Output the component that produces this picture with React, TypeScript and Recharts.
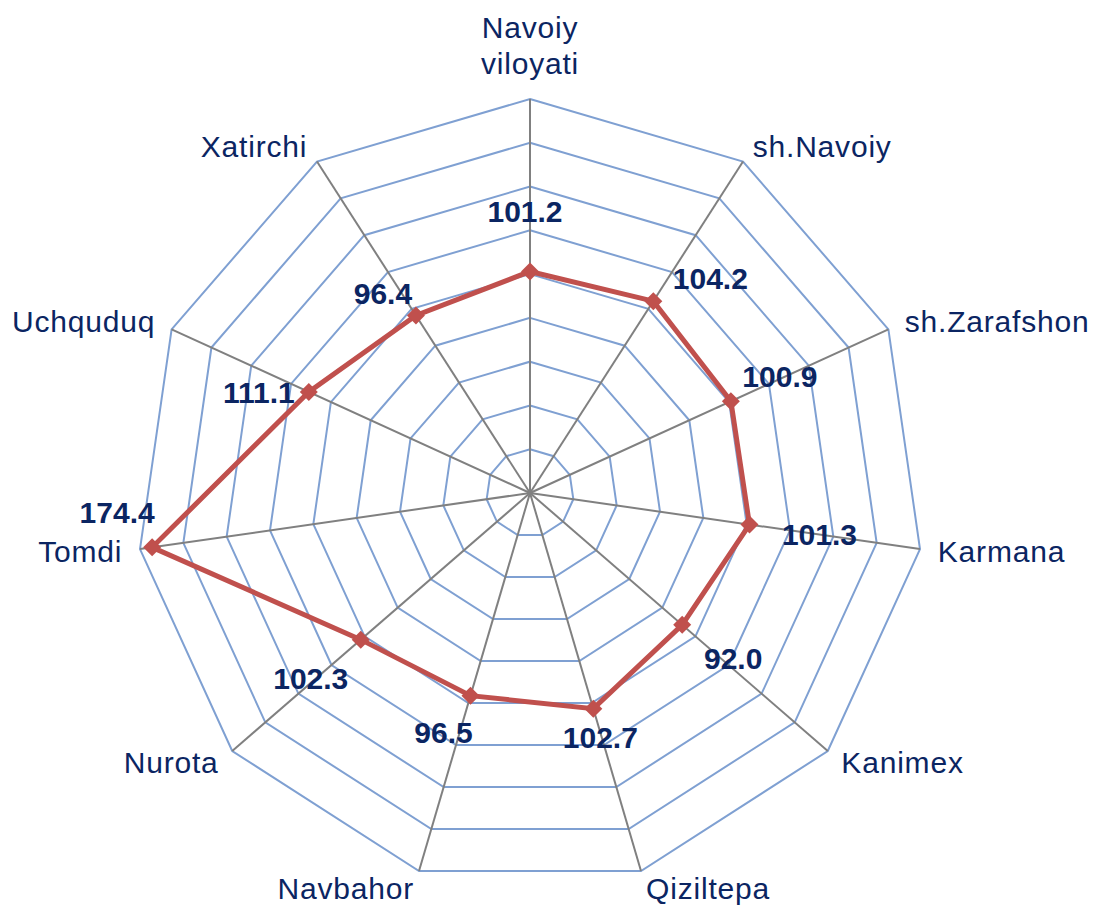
import { RadarChart, Radar, PolarGrid, PolarAngleAxis, PolarRadiusAxis } from "recharts";

const categories = [
  "Navoiy viloyati",
  "sh.Navoiy",
  "sh.Zarafshon",
  "Karmana",
  "Kanimex",
  "Qiziltepa",
  "Navbahor",
  "Nurota",
  "Tomdi",
  "Uchquduq",
  "Xatirchi",
];
const growth = [101.2, 104.2, 100.9, 101.3, 92.0, 102.7, 96.5, 102.3, 174.4, 111.1, 96.4];
const radiusDomain = [0, 180];

// where each value label sits relative to its marker (hand placed, as in the source)
const labelShift: [number, number][] = [
  [-5, -60], [57, -23], [49, -25], [70, 10], [51, 34], [7, 29],
  [-27, 37], [-50, 39], [-35, -35], [-50, 1], [-33, -22],
];

const NAVY = "#0B2562";
const FONT = "'Liberation Sans', Arial, sans-serif";

const data = categories.map((name, i) => ({ name, v: growth[i] }));

function CategoryTick(props: any) {
  const { x, y, textAnchor, payload, index } = props;
  const name: string = payload.value;
  const common = {
    fill: NAVY,
    fontSize: 30,
    fontFamily: FONT,
    letterSpacing: 0.8,
    dominantBaseline: "central" as const,
  };
  if (index === 0) {
    const [a, b] = name.split(" ");
    return (
      <g>
        <text x={x} y={y - 54} textAnchor="middle" {...common}>{a}</text>
        <text x={x} y={y - 18} textAnchor="middle" {...common}>{b}</text>
      </g>
    );
  }
  return (
    <text x={x} y={y} textAnchor={textAnchor} {...common}>
      {name}
    </text>
  );
}

const renderDot = (props: any) => {
  const { cx, cy, index } = props;
  const [dx, dy] = labelShift[index];
  const s = 9;
  return (
    <g key={`dot-${index}`}>
      <polygon
        points={`${cx},${cy - s} ${cx + s},${cy} ${cx},${cy + s} ${cx - s},${cy}`}
        fill="#C0504D"
      />
      <text
        x={cx + dx}
        y={cy + dy}
        textAnchor="middle"
        dominantBaseline="central"
        fill={NAVY}
        fontSize={30}
        fontWeight="bold"
        fontFamily={FONT}
      >
        {growth[index].toFixed(1)}
      </text>
    </g>
  );
};

export default function App() {
  return (
    <div style={{ position: "absolute", left: 0, top: 0, background: "#fff" }}>
      <RadarChart width={1094} height={907} data={data} cx={530} cy={493} outerRadius={394}>
        <PolarGrid gridType="polygon" radialLines={false} stroke="#7FA0D2" strokeWidth={2} />
        <PolarGrid gridType="polygon" polarRadius={[]} stroke="#808080" strokeWidth={2} />
        <PolarRadiusAxis domain={radiusDomain} tickCount={10} tick={false} axisLine={false} />
        <PolarAngleAxis dataKey="name" tick={<CategoryTick />} tickLine={false} axisLine={false} tickSize={18} />
        <Radar
          dataKey="v"
          stroke="#C0504D"
          strokeWidth={5}
          fill="none"
          fillOpacity={0}
          dot={renderDot}
          isAnimationActive={false}
        />
      </RadarChart>
    </div>
  );
}
